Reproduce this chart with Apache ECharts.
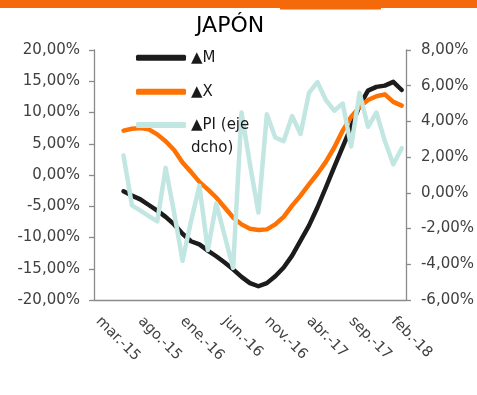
<!DOCTYPE html>
<html>
<head>
<meta charset="utf-8">
<script src="https://cdn.jsdelivr.net/npm/echarts@6/dist/echarts.min.js"></script>
<style>
  html, body { margin: 0; padding: 0; background: #fff; }
  #chart { width: 477px; height: 395px; }
</style>
</head>
<body>
<div id="chart"></div>
<script>
// Monthly categories, March 2015 to March 2018
const months = ['mar.-15','abr.-15','may.-15','jun.-15','jul.-15','ago.-15','sep.-15','oct.-15','nov.-15','dic.-15',
  'ene.-16','feb.-16','mar.-16','abr.-16','may.-16','jun.-16','jul.-16','ago.-16','sep.-16','oct.-16','nov.-16','dic.-16',
  'ene.-17','feb.-17','mar.-17','abr.-17','may.-17','jun.-17','jul.-17','ago.-17','sep.-17','oct.-17','nov.-17','dic.-17',
  'ene.-18','feb.-18','mar.-18'];

// Year-on-year change, %; series begin in jun.-15
const importsM = [null, null, null,
  -2.6, -3.3, -3.9, -4.8, -5.7, -6.7, -7.9, -9.4, -10.6, -11.1, -12.1, -13.0, -14.0, -15.1, -16.3, -17.3,
  -17.8, -17.3, -16.2, -14.8, -12.9, -10.5, -8.1, -5.2, -2.0, 1.3, 4.5, 7.7, 11.1, 13.5, 14.1, 14.3, 14.9, 13.6];
const exportsX = [null, null, null,
  7.1, 7.4, 7.5, 7.3, 6.5, 5.4, 4.0, 2.0, 0.5, -1.1, -2.3, -3.6, -5.2, -6.8, -7.9, -8.6,
  -8.8, -8.7, -7.9, -6.7, -4.9, -3.3, -1.5, 0.2, 2.1, 4.4, 7.1, 9.3, 10.9, 12.0, 12.6, 12.9, 11.7, 11.1];
// Industrial production, right axis
const industryPI = [null, null, null,
  2.1, -0.7, -1.0, -1.3, -1.6, 1.4, -1.1, -3.8, -1.6, 0.4, -3.2, -0.6, -2.4, -4.2, 4.5, 1.6,
  -1.1, 4.4, 3.1, 2.9, 4.3, 3.3, 5.6, 6.2, 5.2, 4.6, 5.0, 2.6, 5.6, 3.7, 4.5, 2.9, 1.6, 2.5];

const nameM = '▲M';
const nameX = '▲X';
const namePI = '▲PI (eje dcho)';

const FONT = 'DejaVu Sans';
const AXIS_GREY = '#8a8a8a';
const LABEL_GREY = '#404040';
const COLOR_M = '#1c1c1c';
const COLOR_X = '#ff7100';
const COLOR_PI = '#c2e6e1';

const pct = v => v.toFixed(2).replace('.', ',') + '%';

function legendAt(name, top, formatter, lineHeight) {
  return {
    data: [name],
    left: 136,
    top: top,
    padding: 0,
    icon: 'roundRect',
    itemWidth: 50,
    itemHeight: 6,
    itemStyle: { borderWidth: 0 },
    formatter: formatter,
    textStyle: {
      fontFamily: FONT, fontSize: 15, color: '#1a1a1a',
      lineHeight: lineHeight, padding: [8, 0, 0, 0]
    }
  };
}

const chart = echarts.init(document.getElementById('chart'), null, { renderer: 'canvas' });

chart.setOption({
  animation: false,
  backgroundColor: '#ffffff',
  graphic: [
    { type: 'rect', left: 0, top: 0, shape: { width: 477, height: 8 }, style: { fill: '#f4690a' }, silent: true },
    { type: 'rect', left: 280, top: 0, shape: { width: 101, height: 9.5 }, style: { fill: '#f4690a' }, silent: true },
    {
      type: 'text', left: 196, top: 15, silent: true,
      style: { text: 'JAPÓN', fontFamily: FONT, fontSize: 22, fill: '#000' }
    }
  ],
  legend: [
    legendAt(nameM, 43.7, n => n, 20),
    legendAt(nameX, 77.7, n => n, 20),
    legendAt(namePI, 86.5, () => ' \n▲PI (eje\ndcho)', 23)
  ],
  grid: { left: 94, right: 66.5, top: 50, height: 250, containLabel: false },
  xAxis: {
    type: 'category',
    data: months,
    boundaryGap: true,
    axisLine: { onZero: false, lineStyle: { color: AXIS_GREY, width: 1.3 } },
    axisTick: { inside: true, length: 5, interval: 4, alignWithLabel: false, lineStyle: { color: AXIS_GREY, width: 1.3 } },
    axisLabel: { interval: 4, rotate: -45, margin: 19, fontFamily: FONT, fontSize: 14.5, color: LABEL_GREY },
    splitLine: { show: false }
  },
  yAxis: [
    {
      type: 'value', position: 'left',
      min: -20, max: 20, interval: 5,
      axisLine: { show: true, lineStyle: { color: AXIS_GREY, width: 1.3 } },
      axisTick: { show: true, length: 5, lineStyle: { color: AXIS_GREY, width: 1.3 } },
      axisLabel: { formatter: pct, margin: 14, fontFamily: FONT, fontSize: 15, color: LABEL_GREY },
      splitLine: { show: false }
    },
    {
      type: 'value', position: 'right',
      min: -6, max: 8, interval: 2,
      axisLine: { show: true, lineStyle: { color: AXIS_GREY, width: 1.3 } },
      axisTick: { show: true, length: 5, lineStyle: { color: AXIS_GREY, width: 1.3 } },
      axisLabel: { formatter: pct, margin: 15, fontFamily: FONT, fontSize: 15, color: LABEL_GREY },
      splitLine: { show: false }
    }
  ],
  series: [
    {
      name: nameM, type: 'line', yAxisIndex: 0, data: importsM,
      showSymbol: false, symbol: 'none', color: COLOR_M,
      lineStyle: { color: COLOR_M, width: 4.5, cap: 'round', join: 'round' }
    },
    {
      name: nameX, type: 'line', yAxisIndex: 0, data: exportsX,
      showSymbol: false, symbol: 'none', color: COLOR_X,
      lineStyle: { color: COLOR_X, width: 4.5, cap: 'round', join: 'round' }
    },
    {
      name: namePI, type: 'line', yAxisIndex: 1, data: industryPI,
      showSymbol: false, symbol: 'none', color: COLOR_PI,
      lineStyle: { color: COLOR_PI, width: 4.5, cap: 'round', join: 'round' }
    }
  ]
});
</script>
</body>
</html>
